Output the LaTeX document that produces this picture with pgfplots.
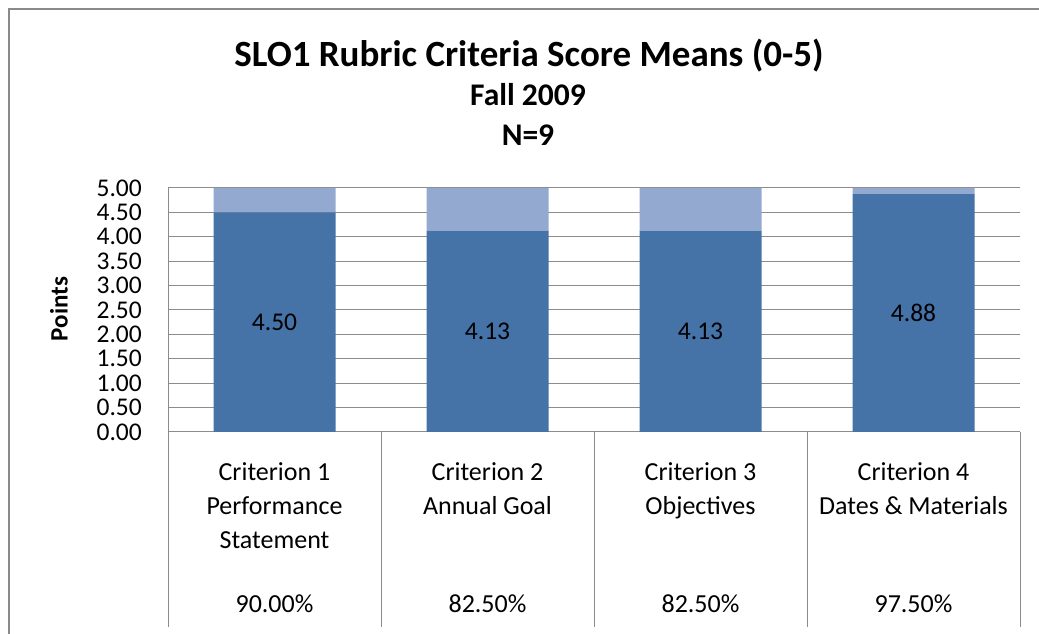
\documentclass[border=0pt]{standalone}
\usepackage{fontspec}
\setmainfont{Carlito}
\usepackage{pgfplots}
\pgfplotsset{compat=1.18}
\definecolor{barDark}{HTML}{4572A7}
\definecolor{barLight}{HTML}{94A9D0}
\definecolor{gridGray}{HTML}{8C8C8C}
\definecolor{frameGray}{HTML}{8A8A8A}

\begin{document}
\begin{tikzpicture}
% outer chart frame
\draw[frameGray, line width=2pt] (9pt,0pt) -- (9pt,625pt) -- (1039pt,625pt);

% titles
\node[anchor=base, font=\fontsize{37}{40}\selectfont\bfseries] at (529pt,567pt) {SLO1 Rubric Criteria Score Means (0-5)};
\node[anchor=base, font=\fontsize{31.5}{34}\selectfont\bfseries] at (528pt,528pt) {Fall 2009};
\node[anchor=base, font=\fontsize{31.5}{34}\selectfont\bfseries] at (528pt,488pt) {N=9};
\node[rotate=90, font=\fontsize{25}{28}\selectfont\bfseries] at (59pt,325pt) {Points};

\begin{axis}[
    at={(168pt,202pt)}, anchor=south west,
    scale only axis, width=852pt, height=244pt,
    xmin=0.5, xmax=4.5, ymin=0, ymax=5,
    ybar stacked, bar width=122pt,
    axis x line=bottom, axis y line=left,
    axis line style={-, gridGray, line width=1pt},
    major tick length=0pt,
    ytick={0,0.5,...,5},
    ymajorgrids, grid style={gridGray, line width=1pt},
    yticklabel style={font=\fontsize{25.5}{28}\selectfont, inner sep=0pt, anchor=east, xshift=-26pt},
    yticklabel={\pgfmathprintnumber[fixed,fixed zerofill,precision=2,assume math mode=true]{\tick}},
    xtick={1,2,3,4},
    xticklabels={{Criterion 1\\Performance\\Statement},{Criterion 2\\Annual Goal},{Criterion 3\\Objectives},{Criterion 4\\Dates \& Materials}},
    xticklabel style={font=\fontsize{26}{34}\selectfont, align=center, anchor=north, inner sep=0pt, yshift=-30pt},
    clip=false,
]
% dark part = mean score, labelled at its middle
\addplot[fill=barDark, draw=none,
    point meta=rawy,
    nodes near coords={\pgfmathprintnumber[fixed,fixed zerofill,precision=2,assume math mode=true]{\pgfplotspointmeta}},
    every node near coord/.append style={font=\fontsize{25.5}{28}\selectfont, text=black, anchor=center},
    ] coordinates {(1,4.5) (2,4.125) (3,4.125) (4,4.875)};
% light part = remainder up to 5
\addplot[fill=barLight, draw=none] coordinates {(1,0.5) (2,0.875) (3,0.875) (4,0.125)};

% table grid below the plot
\pgfplotsinvokeforeach{0.5,1.5,2.5,3.5,4.5}{
  \draw[gridGray, line width=1pt] (axis cs:#1,0) -- (axis cs:#1,-4);
}
\node[font=\fontsize{26}{30}\selectfont] at (axis cs:1,-3.525) {90.00\%};
\node[font=\fontsize{26}{30}\selectfont] at (axis cs:2,-3.525) {82.50\%};
\node[font=\fontsize{26}{30}\selectfont] at (axis cs:3,-3.525) {82.50\%};
\node[font=\fontsize{26}{30}\selectfont] at (axis cs:4,-3.525) {97.50\%};
\end{axis}
\pgfresetboundingbox
\path[use as bounding box] (0pt,0pt) rectangle (1039pt,634pt);
\end{tikzpicture}
\end{document}
